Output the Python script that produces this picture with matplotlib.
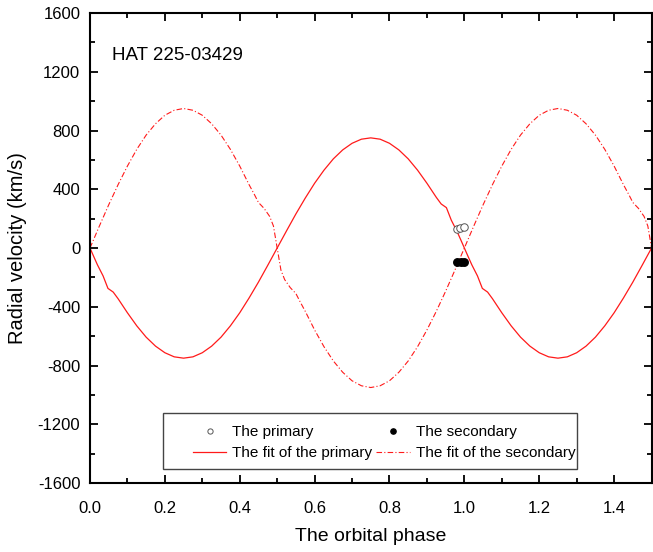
import matplotlib
matplotlib.use("Agg")
import matplotlib.pyplot as plt
from matplotlib.patches import Rectangle
from matplotlib.ticker import MultipleLocator

plt.rcParams['font.family'] = ['Liberation Sans', 'DejaVu Sans']
plt.rcParams['axes.unicode_minus'] = False

# observed radial velocities
obs_phase_p = [0.980, 0.989, 0.998]
obs_rv_p = [132, 138, 143]
obs_phase_s = [0.979, 0.990, 0.999]
obs_rv_s = [-95, -95, -96]

# fitted curve of the primary (km/s)
fit_phase_p = [0.0, 0.01, 0.02, 0.035, 0.048, 0.062, 0.075, 0.1, 0.125, 0.15, 0.175,
               0.2, 0.225, 0.25, 0.275, 0.3, 0.325, 0.35, 0.375, 0.4, 0.425, 0.45,
               0.475, 0.5, 0.525, 0.55, 0.575, 0.6, 0.625, 0.65, 0.675, 0.7, 0.725,
               0.75, 0.775, 0.8, 0.825, 0.85, 0.875, 0.9, 0.925, 0.938, 0.952, 0.965,
               0.98, 0.99, 1.0, 1.01, 1.02, 1.035, 1.048, 1.062, 1.075, 1.1, 1.125,
               1.15, 1.175, 1.2, 1.225, 1.25, 1.275, 1.3, 1.325, 1.35, 1.375, 1.4,
               1.425, 1.45, 1.475, 1.5]
fit_rv_p = [0, -58, -115, -190, -275, -300, -345, -441, -530, -607, -668,
            -713, -741, -750, -741, -713, -668, -607, -530, -441, -340, -232,
            -117, 0, 117, 232, 340, 441, 530, 607, 668, 713, 741,
            750, 741, 713, 668, 607, 530, 441, 345, 300, 275, 190,
            115, 58, 0, -58, -115, -190, -275, -300, -345, -441, -530,
            -607, -668, -713, -741, -750, -741, -713, -668, -607, -530, -441,
            -340, -232, -117, 0]

# fitted curve of the secondary (km/s)
fit_phase_s = [0.0, 0.025, 0.05, 0.075, 0.1, 0.125, 0.15, 0.175, 0.2, 0.225, 0.25,
               0.275, 0.3, 0.325, 0.35, 0.375, 0.4, 0.425, 0.44, 0.45, 0.465, 0.48,
               0.49, 0.5, 0.51, 0.52, 0.535, 0.55, 0.56, 0.575, 0.6, 0.625, 0.65,
               0.675, 0.7, 0.725, 0.75, 0.775, 0.8, 0.825, 0.85, 0.875, 0.9, 0.925,
               0.95, 0.975, 1.0, 1.025, 1.05, 1.075, 1.1, 1.125, 1.15, 1.175, 1.2,
               1.225, 1.25, 1.275, 1.3, 1.325, 1.35, 1.375, 1.4, 1.425, 1.44, 1.45,
               1.465, 1.48, 1.49, 1.5]
fit_rv_s = [0, 149, 294, 431, 558, 672, 769, 846, 904, 938, 950,
            938, 904, 846, 769, 672, 558, 431, 360, 310, 270, 215,
            150, 0, -150, -215, -270, -310, -360, -431, -558, -672, -769,
            -846, -904, -938, -950, -938, -904, -846, -769, -672, -558, -431,
            -294, -149, 0, 149, 294, 431, 558, 672, 769, 846, 904,
            938, 950, 938, 904, 846, 769, 672, 558, 431, 360, 310,
            270, 215, 150, 0]

fig = plt.figure(figsize=(6.53, 5.52), dpi=100)
ax = fig.add_axes([0.1378, 0.125, 0.860, 0.8514])

l1, = ax.plot(obs_phase_p, obs_rv_p, 'o', ms=5.4, mfc='white', mec='#555555', mew=0.7,
              label='The primary', zorder=4)
l3, = ax.plot(obs_phase_s, obs_rv_s, 'o', ms=5.4, mfc='black', mec='black',
              label='The secondary', zorder=4)
l2, = ax.plot(fit_phase_p, fit_rv_p, '-', color='#ff1a1a', lw=0.9,
              label='The fit of the primary')
l4, = ax.plot(fit_phase_s, fit_rv_s, color='#ff1a1a', lw=0.8, dashes=(5, 2, 1, 2),
              label='The fit of the secondary')

ax.set_xlim(0, 1.5)
ax.set_ylim(-1600, 1600)
ax.xaxis.set_major_locator(MultipleLocator(0.2))
ax.xaxis.set_minor_locator(MultipleLocator(0.1))
ax.yaxis.set_major_locator(MultipleLocator(400))
ax.yaxis.set_minor_locator(MultipleLocator(200))
ax.tick_params(which='both', direction='in', top=True, right=True, width=1.3,
               labelsize=12)
ax.tick_params(axis='x', which='major', pad=13)
ax.tick_params(axis='y', which='major', pad=7)
ax.tick_params(which='major', length=6)
ax.tick_params(which='minor', length=3.5)
for s in ax.spines.values():
    s.set_linewidth(1.5)

ax.set_xlabel('The orbital phase', fontsize=14)
ax.set_ylabel('Radial velocity (km/s)', fontsize=14.5)
ax.xaxis.set_label_coords(0.5, -0.096)
ax.yaxis.set_label_coords(-0.112, 0.5)

ax.text(0.039, 0.91, 'HAT 225-03429', transform=ax.transAxes, fontsize=13.5,
        va='center', ha='left')

leg = ax.legend(handles=[l1, l2, l3, l4], ncol=2, loc='upper left',
                bbox_to_anchor=(0.183, 0.1225), frameon=False, fontsize=11,
                borderpad=0, borderaxespad=0, handlelength=2.2, handletextpad=0.4,
                columnspacing=0.25, labelspacing=0.45, numpoints=1, markerscale=0.7)
ax.add_patch(Rectangle((0.130, 0.030), 0.738, 0.119, transform=ax.transAxes,
                       fill=False, edgecolor='#444444', lw=1.0, zorder=5))

fig.savefig('out.png', dpi=100)
